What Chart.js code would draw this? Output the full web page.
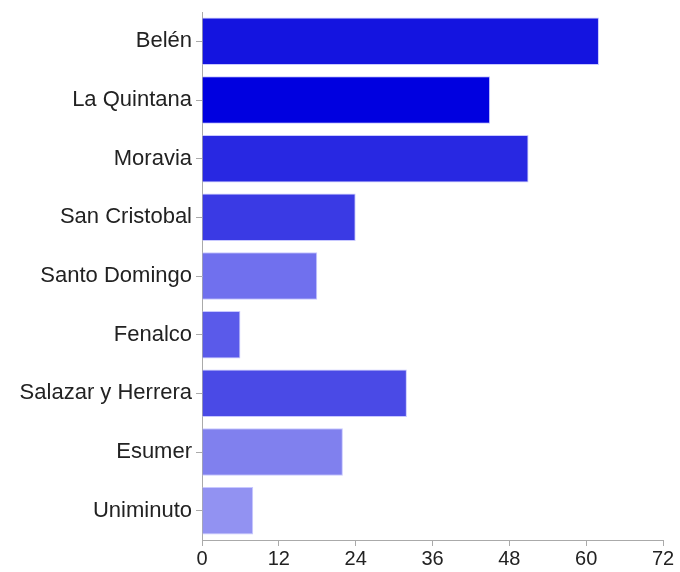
<!DOCTYPE html>
<html>
<head>
<meta charset="utf-8">
<script src="https://cdn.jsdelivr.net/npm/chart.js@4"></script>
<style>
  html, body { margin: 0; padding: 0; background: #fff; }
  #wrap { width: 680px; height: 572px; }
</style>
</head>
<body>
<div id="wrap"><canvas id="chart" width="680" height="572"></canvas></div>
<script>
// Data
const categories = ["Belén", "La Quintana", "Moravia", "San Cristobal", "Santo Domingo",
  "Fenalco", "Salazar y Herrera", "Esumer", "Uniminuto"];
const values = [62, 45, 51, 24, 18, 6, 32, 22, 8];
const barColors = ["#1414e0", "#0000e0", "#2828e2", "#3a3ae4", "#7070ee",
  "#5a5aea", "#4a4ae6", "#8080ee", "#9292f2"];
const xTicks = [0, 12, 24, 36, 48, 60, 72];

const ctx = document.getElementById("chart").getContext("2d");
new Chart(ctx, {
  type: 'bar',
  data: {
    labels: categories,
    datasets: [{
      data: values,
      backgroundColor: barColors,
      borderColor: '#c8c8ff',
      borderWidth: 1,
      barPercentage: 0.9,
      categoryPercentage: 0.9
    }]
  },
  options: {
    indexAxis: 'y',
    responsive: false,
    animation: false,
    layout: { padding: { top: 12, right: 17, bottom: 0, left: 0 } },
    plugins: {
      legend: { display: false },
      tooltip: { enabled: false }
    },
    scales: {
      x: {
        min: xTicks[0],
        max: xTicks[xTicks.length - 1],
        afterBuildTicks: s => { s.ticks = xTicks.map(v => ({ value: v })); },
        grid: { drawOnChartArea: false, color: '#aaa', tickLength: 6 },
        border: { color: '#aaa' },
        ticks: {
          color: '#222',
          font: { family: 'Liberation Sans, Arial, sans-serif', size: 20 },
          padding: 1
        }
      },
      y: {
        grid: { drawOnChartArea: false, offset: false, color: '#aaa', tickLength: 6 },
        border: { color: '#aaa' },
        afterFit: s => { s.width = 202; s.paddingTop = 0; s.paddingBottom = 0; },
        ticks: {
          color: '#222',
          font: { family: 'Liberation Sans, Arial, sans-serif', size: 22 },
          padding: 4
        }
      }
    }
  }
});
</script>
</body>
</html>
